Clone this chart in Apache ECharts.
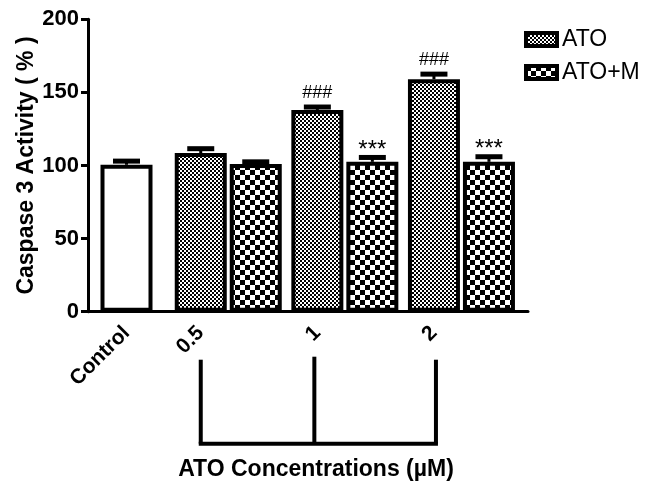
<!DOCTYPE html>
<html><head><meta charset="utf-8">
<script src="https://cdn.jsdelivr.net/npm/echarts@6/dist/echarts.min.js"></script>
<style>html,body{margin:0;padding:0;background:#fff}#c{width:648px;height:484px}</style>
</head><body><div id="c"></div>
<script>
// ---- data ----
const categories = ['Control', '0.5', '1', '2'];
const seriesNames = ['ATO', 'ATO+M'];
const controlValue = [100.5];
const controlErr = [2.5];
const atoValues = [108.5, 138, 159];
const atoErr = [3, 2, 3.5];
const atoMValues = [101, 102.5, 102.5];
const atoMErr = [1.5, 3, 3.5];
const atoSig = ['', '###', '###'];
const atoMSig = ['', '***', '***'];
const yTicks = [0, 50, 100, 150, 200];
const xTitle = 'ATO Concentrations (µM)';
const yTitle = 'Caspase 3 Activity ( % )';

// ---- layout (slot units along a hidden value axis) ----
const CONTROL_POS = 0.7, GROUP_START = 2.05, GROUP_STEP = 2.12, PAIR_OFFSET = 1.0;
const groupPos = i => GROUP_START + i * GROUP_STEP;
const labelPos = [CONTROL_POS].concat(atoValues.map((_, i) => groupPos(i)));

function checker(cell) {
  const c = document.createElement('canvas');
  c.width = c.height = cell * 2;
  const g = c.getContext('2d');
  g.fillStyle = '#fff'; g.fillRect(0, 0, cell * 2, cell * 2);
  g.fillStyle = '#000'; g.fillRect(0, 0, cell, cell); g.fillRect(cell, cell, cell, cell);
  return { image: c, repeat: 'repeat' };
}
const patATO = checker(2);
const patATOM = checker(5);

const FONT = 'Liberation Sans, Arial, sans-serif';
const barStyle = fill => ({ color: fill, borderColor: '#000', borderWidth: 4 });

function errSeries(pts, errs, sigs) {
  return {
    type: 'custom', z: 5, silent: true,
    data: pts.map((p, i) => [p[0], p[1], errs[i]]),
    renderItem(params, api) {
      const x = api.value(0), m = api.value(1), e = api.value(2);
      const b = api.coord([x, m]), t = api.coord([x, m + e]);
      const ch = [
        { type: 'line', shape: { x1: b[0], y1: b[1], x2: t[0], y2: t[1] }, style: { stroke: '#000', lineWidth: 3 } },
        { type: 'line', shape: { x1: t[0] - 13.5, y1: t[1], x2: t[0] + 13.5, y2: t[1] }, style: { stroke: '#000', lineWidth: 5 } }
      ];
      const s = sigs[params.dataIndex];
      if (s) {
        const star = s.charAt(0) === '*';
        ch.push({ type: 'text', style: {
          text: s, x: t[0], y: star ? t[1] + 5 : t[1] - 5, align: 'center', verticalAlign: 'bottom',
          fontSize: star ? 24 : 18, fontFamily: FONT, fill: '#000'
        } });
      }
      return { type: 'group', children: ch };
    }
  };
}

const ctrlPts = controlValue.map(v => [CONTROL_POS, v]);
const atoPts = atoValues.map((v, i) => [groupPos(i), v]);
const atoMPts = atoMValues.map((v, i) => [groupPos(i) + PAIR_OFFSET, v]);

const chart = echarts.init(document.getElementById('c'), null, { renderer: 'canvas' });
chart.setOption({
  animation: false,
  backgroundColor: '#fff',
  grid: { left: 88, right: 120, top: 19.3, bottom: 172.3, outerBoundsMode: 'none', containLabel: false },
  legend: {
    data: seriesNames, orient: 'vertical', left: 524, top: 28, padding: 0,
    icon: 'rect', itemWidth: 31, itemHeight: 13, itemGap: 10,
    itemStyle: { borderColor: '#000', borderWidth: 4 },
    textStyle: { fontSize: 23, fontFamily: FONT, color: '#000', padding: [0, 0, 0, 0] }
  },
  xAxis: {
    type: 'value', min: 0, max: 8,
    name: xTitle, nameLocation: 'middle', nameGap: 146, nameMoveOverlap: false,
    nameTextStyle: { fontSize: 23, fontWeight: 'bold', fontFamily: FONT, color: '#000', padding: [0, 0, 0, 16] },
    axisLine: { show: true, lineStyle: { color: '#000', width: 3 } },
    axisTick: { show: false }, splitLine: { show: false },
    axisLabel: {
      customValues: labelPos, rotate: 45, margin: 18,
      formatter: v => { const i = labelPos.findIndex(p => Math.abs(p - v) < 1e-6); return i >= 0 ? categories[i] : ''; },
      fontSize: 21, fontWeight: 'bold', fontFamily: FONT, color: '#000'
    }
  },
  yAxis: {
    type: 'value', min: 0, max: 200, interval: 50,
    name: yTitle, nameLocation: 'middle', nameGap: 50, nameMoveOverlap: false,
    nameTextStyle: { fontSize: 23, fontWeight: 'bold', fontFamily: FONT, color: '#000' },
    axisLine: { show: true, lineStyle: { color: '#000', width: 3 } },
    axisTick: { show: true, length: 7, lineStyle: { color: '#000', width: 3 } },
    splitLine: { show: false },
    axisLabel: { customValues: yTicks, margin: 9, fontSize: 22, fontWeight: 'bold', fontFamily: FONT, color: '#000' }
  },
  series: [
    { name: 'Control', type: 'bar', barWidth: 52, barGap: '-100%', data: ctrlPts, itemStyle: barStyle('#fff') },
    { name: 'ATO', type: 'bar', barWidth: 52, barGap: '-100%', data: atoPts, itemStyle: barStyle(patATO) },
    { name: 'ATO+M', type: 'bar', barWidth: 52, barGap: '-100%', data: atoMPts, itemStyle: barStyle(patATOM) },
    errSeries(ctrlPts, controlErr, ['']),
    errSeries(atoPts, atoErr, atoSig),
    errSeries(atoMPts, atoMErr, atoMSig)
  ]
});

// bracket under the concentration labels
const bx = atoValues.map((_, i) => chart.convertToPixel({ xAxisIndex: 0 }, groupPos(i)));
const y0 = chart.convertToPixel({ yAxisIndex: 0 }, 0);
const top1 = y0 + 48, bot = y0 + 132;
const lineStyle = { stroke: '#000', lineWidth: 4 };
chart.setOption({
  graphic: [
    { type: 'line', shape: { x1: bx[0], y1: top1, x2: bx[0], y2: bot }, style: lineStyle },
    { type: 'line', shape: { x1: bx[1] - 3, y1: top1 - 3, x2: bx[1] - 3, y2: bot }, style: lineStyle },
    { type: 'line', shape: { x1: bx[2] + 2, y1: top1, x2: bx[2] + 2, y2: bot }, style: lineStyle },
    { type: 'line', shape: { x1: bx[0] - 2, y1: bot, x2: bx[2] + 4, y2: bot }, style: lineStyle }
  ]
});
</script></body></html>
